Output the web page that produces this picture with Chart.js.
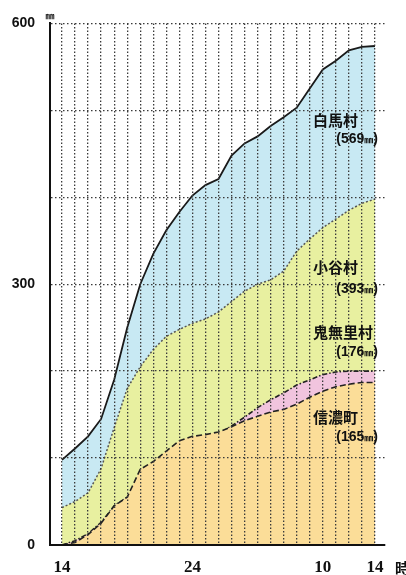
<!DOCTYPE html>
<html><head><meta charset="utf-8">
<script src="https://cdn.jsdelivr.net/npm/chart.js@4.4.1/dist/chart.umd.min.js"></script>
<style>html,body{margin:0;padding:0;background:#fff;}canvas{display:block;}</style>
</head><body>
<canvas id="c" width="406" height="575"></canvas>
<script>
// hours: 14 (day 1) ... 38 (= 14 next day)
const hours   = [14,15,16,17,18,19,20,21,22,23,24,25,26,27,28,29,30,31,32,33,34,35,36,37,38];
const hakuba  = [98,111,125,145,190,250,300,335,362,383,402,414,421,448,462,470,482,492,503,525,547,557,569,573,574];
const otari   = [43,50,60,88,135,180,205,225,240,248,255,260,268,280,292,300,305,315,338,352,365,375,385,393,398];
const kinasa  = [0,5,13,26,45,55,62,66,75,88,103,115,127,137,147,158,167,175,184,190,196,199,200,200,200];
const shinano = [0,3,12,25,45,55,87,96,108,120,125,127,130,136,143,148,153,156,162,170,177,182,185,187,187];

const xTickLabels = {14:'14', 24:'24', 34:'10', 38:'14'};
const yTickLabels = {0:'0', 300:'300', 600:'600'};
const seriesNames  = ['白馬村','小谷村','鬼無里村','信濃町'];
const seriesTotals = ['569','393','176','165'];

const pts = arr => arr.map((v,i)=>({x:hours[i], y:v}));

const labelPlugin = {
  id:'labels',
  afterDraw(chart){
    const ctx = chart.ctx;
    ctx.save();
    ctx.fillStyle = '#111';
    const nameY = [120,267,332,417];
    const totY  = [139,289,352,437];
    for (let i=0;i<4;i++){
      ctx.font = 'bold 15px "Noto Sans CJK JP"';
      ctx.textAlign = 'left'; ctx.textBaseline = 'middle';
      ctx.fillText(seriesNames[i], 313, nameY[i]);
      const segs = [['(', 'bold 14px "Liberation Sans"'], [seriesTotals[i], 'bold 14px "Liberation Sans"'],
                    ['㎜', 'bold 9px "Noto Sans CJK JP"'], [')', 'bold 14px "Liberation Sans"']];
      let w = 0;
      segs.forEach(s=>{ctx.font=s[1]; w+=ctx.measureText(s[0]).width;});
      let x = 378 - w;
      segs.forEach(s=>{ctx.font=s[1]; ctx.fillText(s[0], x, totY[i] + (s[0]==='㎜'?1:0)); x+=ctx.measureText(s[0]).width;});
    }
    ctx.font = 'bold 9px "Noto Sans CJK JP"';
    ctx.textAlign = 'center';
    ctx.fillText('㎜', 50, 16);
    ctx.font = 'bold 15px "Noto Sans CJK JP"';
    ctx.textAlign = 'left';
    ctx.fillText('時', 395, 568);
    ctx.restore();
  }
};

new Chart(document.getElementById('c'), {
  type:'line',
  data:{
    datasets:[
      {label:seriesNames[3], data:pts(shinano), order:1, fill:'origin',
       backgroundColor:'rgb(251,221,152)', borderColor:'#222', borderWidth:1.6, borderDash:[6,3]},
      {label:seriesNames[2], data:pts(kinasa), order:2, fill:'origin',
       backgroundColor:'rgb(241,196,222)', borderColor:'#222', borderWidth:1.6, borderDash:[5,2,1.5,2]},
      {label:seriesNames[1], data:pts(otari), order:3, fill:'origin',
       backgroundColor:'rgb(232,240,160)', borderColor:'#555', borderWidth:1.5, borderDash:[2,2]},
      {label:seriesNames[0], data:pts(hakuba), order:4, fill:'origin',
       backgroundColor:'rgb(200,233,243)', borderColor:'#1a1a1a', borderWidth:1.8}
    ]
  },
  options:{
    responsive:false, animation:false, devicePixelRatio:1,
    layout:{padding:{top:15, right:21, left:0, bottom:0}},
    elements:{point:{radius:0}, line:{tension:0}},
    plugins:{legend:{display:false}, tooltip:{enabled:false}},
    scales:{
      x:{type:'linear', min:13.08, max:38.77,
        afterBuildTicks(s){ s.ticks = hours.map(h=>({value:h})); },
        afterFit(s){ s.height = 30; },
        ticks:{autoSkip:false, maxRotation:0, padding:12, color:'#111', z:1,
          font:{family:'"Liberation Sans Narrow"', size:17, weight:'bold'},
          callback(v){ return xTickLabels[v] || ''; }},
        grid:{color:'#3a3a3a', lineWidth:1.3, drawTicks:false, z:1},
        border:{display:true, color:'#111', width:2, dash:[1.5,2], z:2}
      },
      y:{type:'linear', min:0, max:600,
        afterBuildTicks(s){ s.ticks = [0,100,200,300,400,500,600].map(v=>({value:v})); },
        afterFit(s){ s.width = 50; },
        ticks:{padding:15, color:'#111', z:1,
          font:{family:'"Liberation Sans"', size:14, weight:'bold'},
          callback(v){ return yTickLabels[v] || ''; }},
        grid:{color:'#3a3a3a', lineWidth:1.3, drawTicks:false, z:1},
        border:{display:true, color:'#111', width:2, dash:[1.5,2.5], z:2}
      }
    }
  },
  plugins:[labelPlugin]
});
</script>
</body></html>
